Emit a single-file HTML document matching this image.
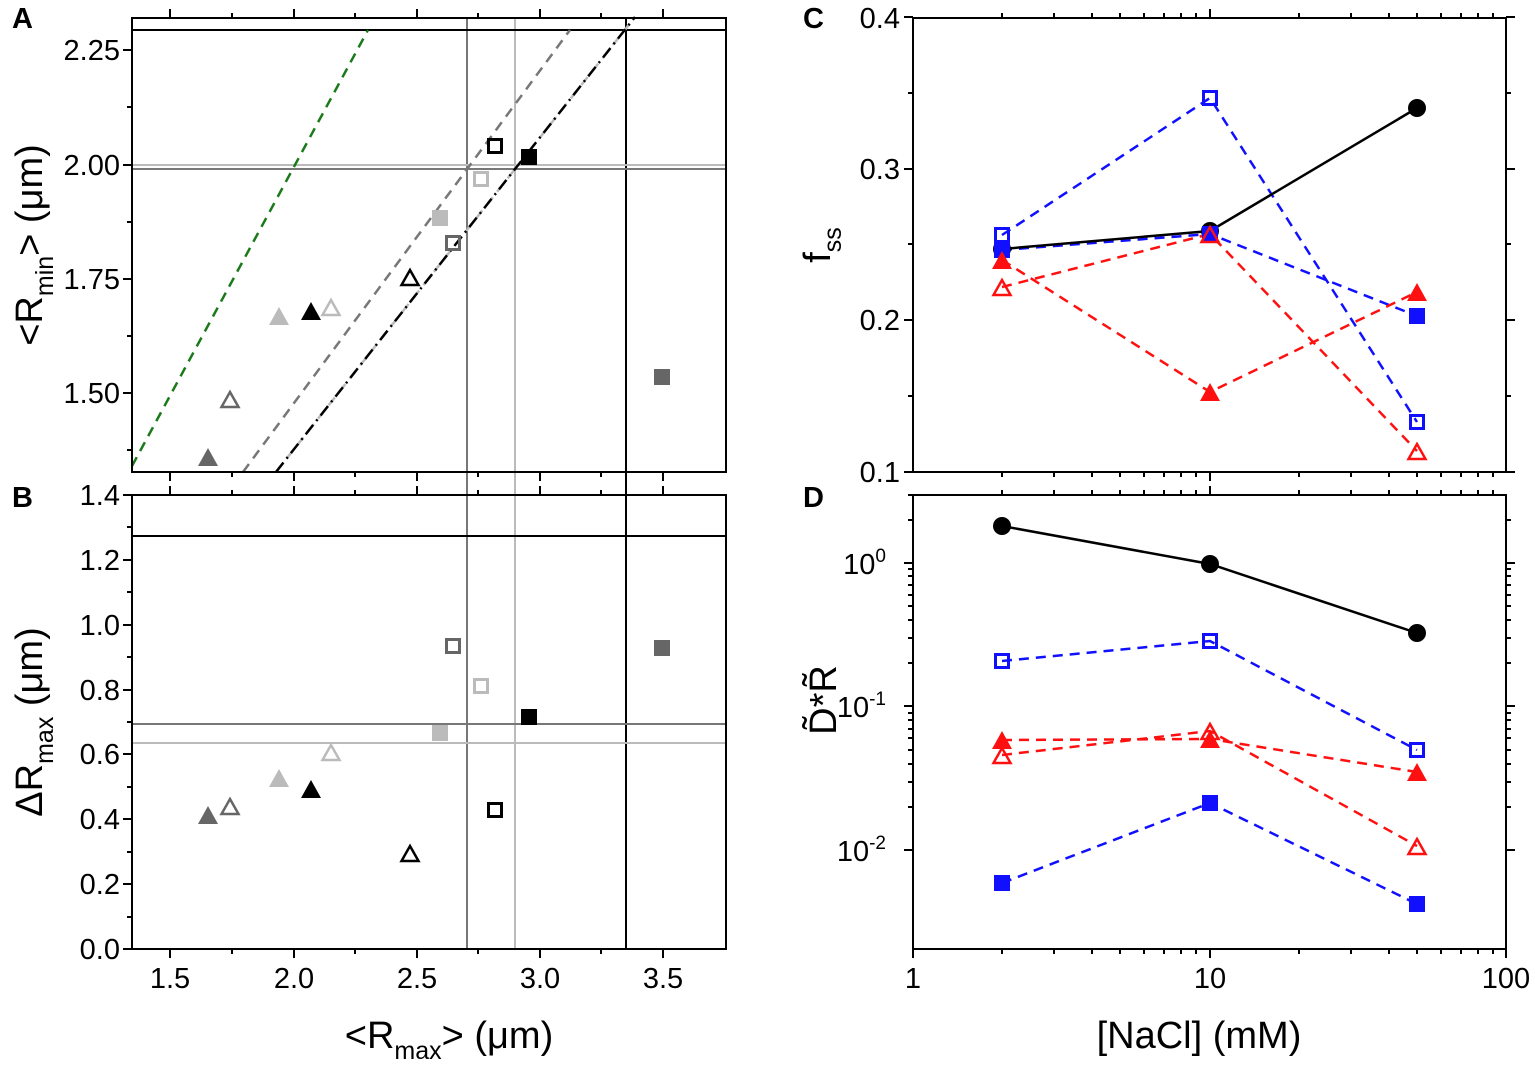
<!DOCTYPE html>
<html><head><meta charset="utf-8"><style>
html,body{margin:0;padding:0;background:#fff}
svg{display:block;font-family:"Liberation Sans",Arial,sans-serif}
</style></head><body>
<svg width="1535" height="1067" viewBox="0 0 1535 1067" xmlns="http://www.w3.org/2000/svg">
<defs>
<path id="t" d="M0,-11 L10,7 L-10,7Z"/>
<path id="to" d="M0,-9 L8.5,6 L-8.5,6Z"/>
<rect id="s" x="-8" y="-8" width="16" height="16"/>
<rect id="so" x="-6.5" y="-6.5" width="13" height="13"/>
<circle id="c" r="9"/>
</defs>
<g fill="#000" font-weight="bold" font-size="29">
<text x="12" y="28">A</text>
<text x="12" y="507">B</text>
<text x="803" y="28">C</text>
<text x="803" y="507">D</text>
</g>

<!-- Panel A -->
<g stroke-width="2">
<line x1="467" y1="18" x2="467" y2="949" stroke="#777"/>
<line x1="515" y1="18" x2="515" y2="949" stroke="#bbb"/>
<line x1="626" y1="18" x2="626" y2="949" stroke="#000"/>
<line x1="132" y1="30" x2="726" y2="30" stroke="#000"/>
<line x1="132" y1="165" x2="726" y2="165" stroke="#bbb"/>
<line x1="132" y1="169" x2="726" y2="169" stroke="#777"/>
<line x1="132" y1="536" x2="726" y2="536" stroke="#000"/>
<line x1="132" y1="724" x2="726" y2="724" stroke="#777"/>
<line x1="132" y1="743" x2="726" y2="743" stroke="#bbb"/>
</g>
<g fill="none" stroke-width="2.5">
<line x1="132" y1="466" x2="368" y2="30" stroke="#1a7a1a" stroke-dasharray="10,7"/>
<line x1="243" y1="472" x2="570" y2="30" stroke="#777" stroke-dasharray="10,7"/>
<line x1="276" y1="472" x2="635" y2="17" stroke="#bbb" stroke-dasharray="10,7"/>
<line x1="276" y1="472" x2="635" y2="17" stroke="#000" stroke-dasharray="12,5,2,5"/>
</g>
<rect x="132" y="18" width="594" height="454" fill="none" stroke="#000" stroke-width="2"/>
<rect x="132" y="495" width="594" height="454" fill="none" stroke="#000" stroke-width="2"/>
<g stroke="#000" stroke-width="2">
<path d="M170,18v-9M294,18v-9M417,18v-9M540,18v-9M663,18v-9M232,18v-5M355,18v-5M478,18v-5M601,18v-5
M170,472v9M294,472v9M417,472v9M540,472v9M663,472v9M232,472v5M355,472v5M478,472v5M601,472v5
M170,495v-9M294,495v-9M417,495v-9M540,495v-9M663,495v-9M232,495v-5M355,495v-5M478,495v-5M601,495v-5
M170,949v9M294,949v9M417,949v9M540,949v9M663,949v9M232,949v5M355,949v5M478,949v5M601,949v5
M132,50h-9M132,165h-9M132,279h-9M132,393h-9M132,107h-5M132,222h-5M132,336h-5M132,450h-5
M132,949h-9M132,884h-9M132,819h-9M132,754h-9M132,690h-9M132,625h-9M132,560h-9M132,495h-9
M132,917h-5M132,852h-5M132,787h-5M132,722h-5M132,657h-5M132,592h-5M132,527h-5"/>
</g>
<g font-size="29" text-anchor="end">
<text x="120" y="60">2.25</text><text x="120" y="175">2.00</text><text x="120" y="289">1.75</text><text x="120" y="403">1.50</text>
<text x="120" y="959">0.0</text><text x="120" y="894">0.2</text><text x="120" y="829">0.4</text><text x="120" y="764">0.6</text>
<text x="120" y="700">0.8</text><text x="120" y="635">1.0</text><text x="120" y="570">1.2</text><text x="120" y="505">1.4</text>
</g>
<g font-size="29" text-anchor="middle">
<text x="170" y="988">1.5</text><text x="294" y="988">2.0</text><text x="417" y="988">2.5</text><text x="540" y="988">3.0</text><text x="663" y="988">3.5</text>
</g>
<text x="449" y="1048" font-size="38" text-anchor="middle">&lt;R<tspan font-size="25" dy="11">max</tspan><tspan dy="-11">&gt; (μm)</tspan></text>
<text transform="translate(42,245) rotate(-90)" font-size="38" text-anchor="middle">&lt;R<tspan font-size="25" dy="11">min</tspan><tspan dy="-11">&gt; (μm)</tspan></text>
<text transform="translate(42,722) rotate(-90)" font-size="38" text-anchor="middle">ΔR<tspan font-size="25" dy="11">max</tspan><tspan dy="-11"> (μm)</tspan></text>

<!-- markers A -->
<g>
<use href="#t" x="208" y="459" fill="#666"/>
<use href="#to" x="230" y="401" fill="none" stroke="#666" stroke-width="2.5"/>
<use href="#t" x="279" y="318" fill="#bbb"/>
<use href="#t" x="311" y="313" fill="#000"/>
<use href="#to" x="331" y="309" fill="none" stroke="#bbb" stroke-width="2.5"/>
<use href="#to" x="410" y="279" fill="none" stroke="#000" stroke-width="2.5"/>
<use href="#s" x="440" y="218" fill="#bbb"/>
<use href="#so" x="453" y="243" fill="none" stroke="#666" stroke-width="3"/>
<use href="#so" x="481" y="179" fill="none" stroke="#bbb" stroke-width="3"/>
<use href="#so" x="495" y="146" fill="none" stroke="#000" stroke-width="3"/>
<use href="#s" x="529" y="157" fill="#000"/>
<use href="#s" x="662" y="377" fill="#666"/>
<!-- B -->
<use href="#t" x="208" y="817" fill="#666"/>
<use href="#to" x="230" y="808" fill="none" stroke="#666" stroke-width="2.5"/>
<use href="#t" x="279" y="780" fill="#bbb"/>
<use href="#t" x="311" y="791" fill="#000"/>
<use href="#to" x="331" y="754" fill="none" stroke="#bbb" stroke-width="2.5"/>
<use href="#to" x="410" y="855" fill="none" stroke="#000" stroke-width="2.5"/>
<use href="#s" x="440" y="733" fill="#bbb"/>
<use href="#so" x="453" y="646" fill="none" stroke="#666" stroke-width="3"/>
<use href="#so" x="481" y="686" fill="none" stroke="#bbb" stroke-width="3"/>
<use href="#so" x="495" y="810" fill="none" stroke="#000" stroke-width="3"/>
<use href="#s" x="529" y="717" fill="#000"/>
<use href="#s" x="662" y="648" fill="#666"/>
</g>

<!-- Panel C -->
<rect x="913" y="18" width="593" height="454" fill="none" stroke="#000" stroke-width="2"/>
<rect x="913" y="495" width="593" height="454" fill="none" stroke="#000" stroke-width="2"/>
<g stroke="#000" stroke-width="2">
<path d="M1210,18v-9M1210,472v9M1210,495v-9M1210,949v9M1506,949v9M913,949v9
M1002,18v-5M1054,18v-5M1092,18v-5M1120,18v-5M1144,18v-5M1164,18v-5M1181,18v-5M1196,18v-5M1299,18v-5M1351,18v-5M1389,18v-5M1417,18v-5M1441,18v-5M1461,18v-5M1478,18v-5M1493,18v-5
M1002,472v5M1054,472v5M1092,472v5M1120,472v5M1144,472v5M1164,472v5M1181,472v5M1196,472v5M1299,472v5M1351,472v5M1389,472v5M1417,472v5M1441,472v5M1461,472v5M1478,472v5M1493,472v5
M1002,495v-5M1054,495v-5M1092,495v-5M1120,495v-5M1144,495v-5M1164,495v-5M1181,495v-5M1196,495v-5M1299,495v-5M1351,495v-5M1389,495v-5M1417,495v-5M1441,495v-5M1461,495v-5M1478,495v-5M1493,495v-5
M1002,949v5M1054,949v5M1092,949v5M1120,949v5M1144,949v5M1164,949v5M1181,949v5M1196,949v5M1299,949v5M1351,949v5M1389,949v5M1417,949v5M1441,949v5M1461,949v5M1478,949v5M1493,949v5
M913,17h-9M913,169h-9M913,320h-9M913,472h-9M913,93h-5M913,244h-5M913,396h-5
M1506,17h9M1506,169h9M1506,320h9M1506,472h9M1506,93h5M1506,244h5M1506,396h5
M913,563h-9M913,706h-9M913,850h-9M1506,563h9M1506,706h9M1506,850h9
M913,520h-5M913,495h-5M913,663h-5M913,638h-5M913,620h-5M913,606h-5M913,595h-5M913,585h-5M913,576h-5M913,569h-5
M913,807h-5M913,782h-5M913,764h-5M913,750h-5M913,738h-5M913,729h-5M913,720h-5M913,713h-5
M1506,520h5M1506,663h5M1506,638h5M1506,620h5M1506,606h5M1506,595h5M1506,585h5M1506,576h5M1506,569h5
M1506,807h5M1506,782h5M1506,764h5M1506,750h5M1506,738h5M1506,729h5M1506,720h5M1506,713h5"/>
</g>
<g font-size="29" text-anchor="end">
<text x="900" y="28">0.4</text><text x="900" y="179">0.3</text><text x="900" y="330">0.2</text><text x="900" y="482">0.1</text>
<text x="886" y="574">10<tspan font-size="19" dy="-12">0</tspan></text>
<text x="886" y="717">10<tspan font-size="19" dy="-12">-1</tspan></text>
<text x="886" y="861">10<tspan font-size="19" dy="-12">-2</tspan></text>
</g>
<g font-size="29" text-anchor="middle">
<text x="913" y="988">1</text><text x="1210" y="988">10</text><text x="1506" y="988">100</text>
</g>
<text x="1199" y="1048" font-size="38" text-anchor="middle">[NaCl] (mM)</text>
<text transform="translate(830,245) rotate(-90)" font-size="38" text-anchor="middle">f<tspan font-size="25" dy="11">ss</tspan></text>
<text transform="translate(836,700) rotate(-90)" font-size="38" text-anchor="middle">D̃*R̃</text>

<!-- C series -->
<g fill="none" stroke-width="2.5">
<polyline points="1002,250 1210,234 1417,316" stroke="#1010ff" stroke-dasharray="10,7"/>
<polyline points="1002,235 1210,98 1417,422" stroke="#1010ff" stroke-dasharray="10,7"/>
<polyline points="1002,260 1210,392 1417,292" stroke="#ff1010" stroke-dasharray="10,7"/>
<polyline points="1002,287 1210,234 1417,451" stroke="#ff1010" stroke-dasharray="10,7"/>
<polyline points="1002,249 1210,231 1417,108" stroke="#000"/>
</g>
<use href="#c" x="1002" y="249" fill="#000"/>
<use href="#c" x="1210" y="231" fill="#000"/>
<use href="#c" x="1417" y="108" fill="#000"/>
<use href="#s" x="1002" y="250" fill="#1010ff"/>
<use href="#s" x="1210" y="234" fill="#1010ff"/>
<use href="#s" x="1417" y="316" fill="#1010ff"/>
<use href="#so" x="1002" y="235" fill="none" stroke="#1010ff" stroke-width="3"/>
<use href="#so" x="1210" y="98" fill="none" stroke="#1010ff" stroke-width="3"/>
<use href="#so" x="1417" y="422" fill="none" stroke="#1010ff" stroke-width="3"/>
<use href="#t" x="1002" y="262" fill="#ff1010"/>
<use href="#t" x="1210" y="394" fill="#ff1010"/>
<use href="#t" x="1417" y="294" fill="#ff1010"/>
<use href="#to" x="1002" y="289" fill="none" stroke="#ff1010" stroke-width="2.5"/>
<use href="#to" x="1210" y="236" fill="none" stroke="#ff1010" stroke-width="2.5"/>
<use href="#to" x="1417" y="453" fill="none" stroke="#ff1010" stroke-width="2.5"/>

<!-- D series -->
<g fill="none" stroke-width="2.5">
<polyline points="1002,526 1210,564 1417,633" stroke="#000"/>
<polyline points="1002,661 1210,641 1417,750" stroke="#1010ff" stroke-dasharray="10,7"/>
<polyline points="1002,740 1210,739 1417,772" stroke="#ff1010" stroke-dasharray="10,7"/>
<polyline points="1002,755 1210,731 1417,846" stroke="#ff1010" stroke-dasharray="10,7"/>
<polyline points="1002,883 1210,803 1417,904" stroke="#1010ff" stroke-dasharray="10,7"/>
</g>
<use href="#c" x="1002" y="526" fill="#000"/>
<use href="#c" x="1210" y="564" fill="#000"/>
<use href="#c" x="1417" y="633" fill="#000"/>
<use href="#so" x="1002" y="661" fill="none" stroke="#1010ff" stroke-width="3"/>
<use href="#so" x="1210" y="641" fill="none" stroke="#1010ff" stroke-width="3"/>
<use href="#so" x="1417" y="750" fill="none" stroke="#1010ff" stroke-width="3"/>
<use href="#t" x="1002" y="742" fill="#ff1010"/>
<use href="#t" x="1210" y="741" fill="#ff1010"/>
<use href="#t" x="1417" y="774" fill="#ff1010"/>
<use href="#to" x="1002" y="757" fill="none" stroke="#ff1010" stroke-width="2.5"/>
<use href="#to" x="1210" y="733" fill="none" stroke="#ff1010" stroke-width="2.5"/>
<use href="#to" x="1417" y="848" fill="none" stroke="#ff1010" stroke-width="2.5"/>
<use href="#s" x="1002" y="883" fill="#1010ff"/>
<use href="#s" x="1210" y="803" fill="#1010ff"/>
<use href="#s" x="1417" y="904" fill="#1010ff"/>
</svg>
</body></html>
